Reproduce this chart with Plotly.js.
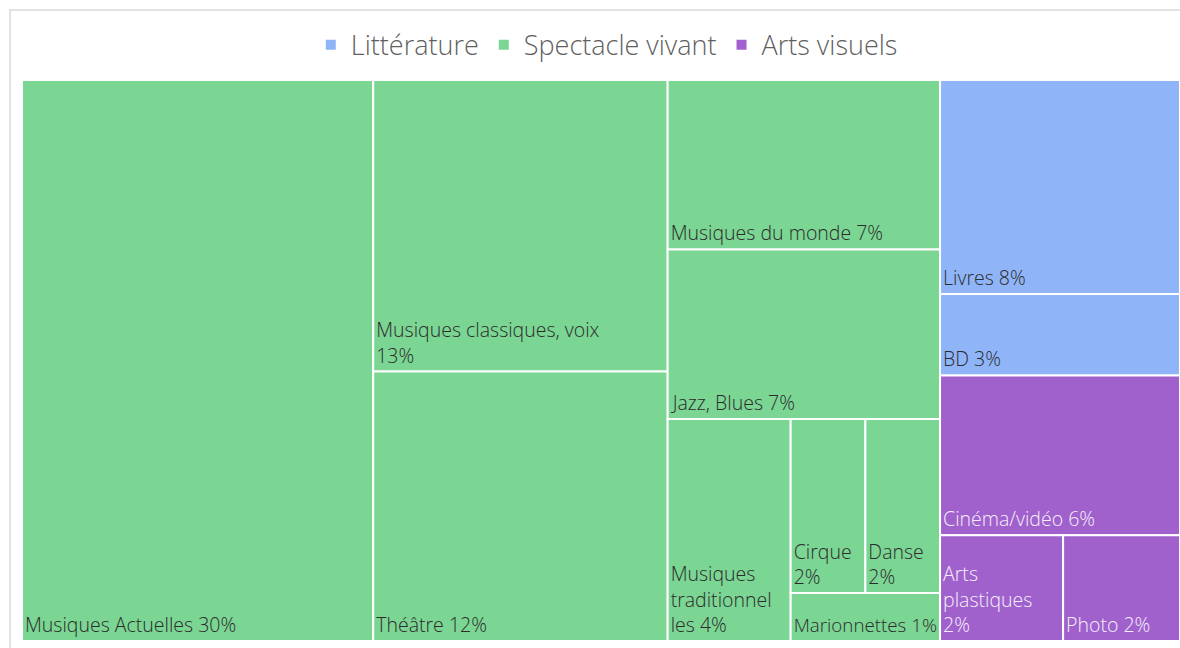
<!DOCTYPE html>
<html>
<head>
<meta charset="utf-8">
<script src="https://cdn.plot.ly/plotly-3.0.1.min.js"></script>
<style>
  html, body { margin: 0; padding: 0; background: #ffffff; }
  #wrap { position: relative; width: 1180px; height: 648px; overflow: hidden; }
  #chart { position: absolute; left: 0; top: 0; width: 1180px; height: 648px; }
  #frame { position: absolute; left: 9px; top: 9px; width: 1200px; height: 700px;
           border-left: 2px solid #e3e3e3; border-top: 2px solid #e3e3e3; pointer-events: none; }
</style>
</head>
<body>
<div id="wrap"><div id="frame"></div><div id="chart"></div></div>
<script>
// ---- data ----
const groups = ["Littérature", "Spectacle vivant", "Arts visuels"];
const groupColors = ["#8FB5F8", "#7BD593", "#A061CD"];
const groupTextColors = ["#2b2b2b", "#2b2b2b", "#f6effb"];

const categories = ["Musiques Actuelles", "Musiques classiques, voix", "Théâtre",
  "Musiques du monde", "Jazz, Blues", "Musiques traditionnelles", "Cirque", "Danse",
  "Marionnettes", "Livres", "BD", "Cinéma/vidéo", "Arts plastiques", "Photo"];
const categoryGroup = ["Spectacle vivant", "Spectacle vivant", "Spectacle vivant",
  "Spectacle vivant", "Spectacle vivant", "Spectacle vivant", "Spectacle vivant", "Spectacle vivant",
  "Spectacle vivant", "Littérature", "Littérature", "Arts visuels", "Arts visuels", "Arts visuels"];
const values = [30.3, 13.2, 12.2, 7.1, 7.1, 4.2, 2.0, 2.0, 1.1, 7.9, 3.0, 5.9, 2.0, 1.9];
const percentLabels = ["30%", "13%", "12%", "7%", "7%", "4%", "2%", "2%", "1%", "8%", "3%", "6%", "2%", "2%"];
// name as it is wrapped inside each tile
const wrappedNames = ["Musiques Actuelles", "Musiques classiques, voix<br>", "Théâtre",
  "Musiques du monde", "Jazz, Blues", "Musiques<br>traditionnel<br>les", "Cirque<br>", "Danse<br>",
  "Marionnettes", "Livres", "BD", "Cinéma/vidéo", "Arts<br>plastiques<br>", "Photo"];

// ---- build hierarchy ----
const ids = [], labels = [], parents = [], vals = [], texts = [], colors = [], tcolors = [];
groups.forEach((g, i) => {
  ids.push(g); labels.push(g); parents.push(""); vals.push(0); texts.push("");
  colors.push(groupColors[i]); tcolors.push(groupTextColors[i]);
});
categories.forEach((c, i) => {
  const gi = groups.indexOf(categoryGroup[i]);
  ids.push(c); labels.push(c); parents.push(categoryGroup[i]); vals.push(values[i]);
  const sep = wrappedNames[i].endsWith("<br>") ? "" : " ";
  texts.push(wrappedNames[i] + sep + percentLabels[i]);
  colors.push(groupColors[gi]); tcolors.push(groupTextColors[gi]);
});

const FONT = "'Open Sans', Lato, sans-serif";

const treemap = {
  type: "treemap",
  ids: ids, labels: labels, parents: parents, values: vals,
  branchvalues: "remainder",
  sort: true,
  text: texts,
  textinfo: "text",
  textposition: "bottom left",
  textfont: { family: FONT, size: 19.5, color: tcolors, weight: 300 },
  marker: { colors: colors, line: { color: "#ffffff", width: 2 },
            pad: { t: 0, l: 0, r: 0, b: 0 } },
  tiling: { packing: "squarify", squarifyratio: 1.175, pad: 0 },
  pathbar: { visible: false },
  hoverinfo: "skip",
  domain: { x: [0, 1], y: [0, 1] }
};

const legendTraces = groups.map((g, i) => ({
  type: "scatter", mode: "markers", name: g,
  x: [null], y: [null],
  marker: { symbol: "square", size: 10, color: groupColors[i] },
  hoverinfo: "skip", showlegend: true
}));

const layout = {
  width: 1180, height: 648,
  margin: { l: 22, r: 0, t: 80, b: 7 },
  paper_bgcolor: "rgba(0,0,0,0)",
  plot_bgcolor: "rgba(0,0,0,0)",
  font: { family: FONT, color: "#595959" },
  xaxis: { visible: false }, yaxis: { visible: false },
  showlegend: true,
  legend: {
    orientation: "h", x: 0.505, xanchor: "center", y: 1.062, yanchor: "middle",
    font: { family: FONT, size: 27, color: "#5f5f5f", weight: 300 },
    itemwidth: 30, traceorder: "normal", bgcolor: "rgba(0,0,0,0)"
  }
};

Plotly.newPlot("chart", [treemap].concat(legendTraces), layout, { displayModeBar: false, staticPlot: true });
</script>
</body>
</html>
